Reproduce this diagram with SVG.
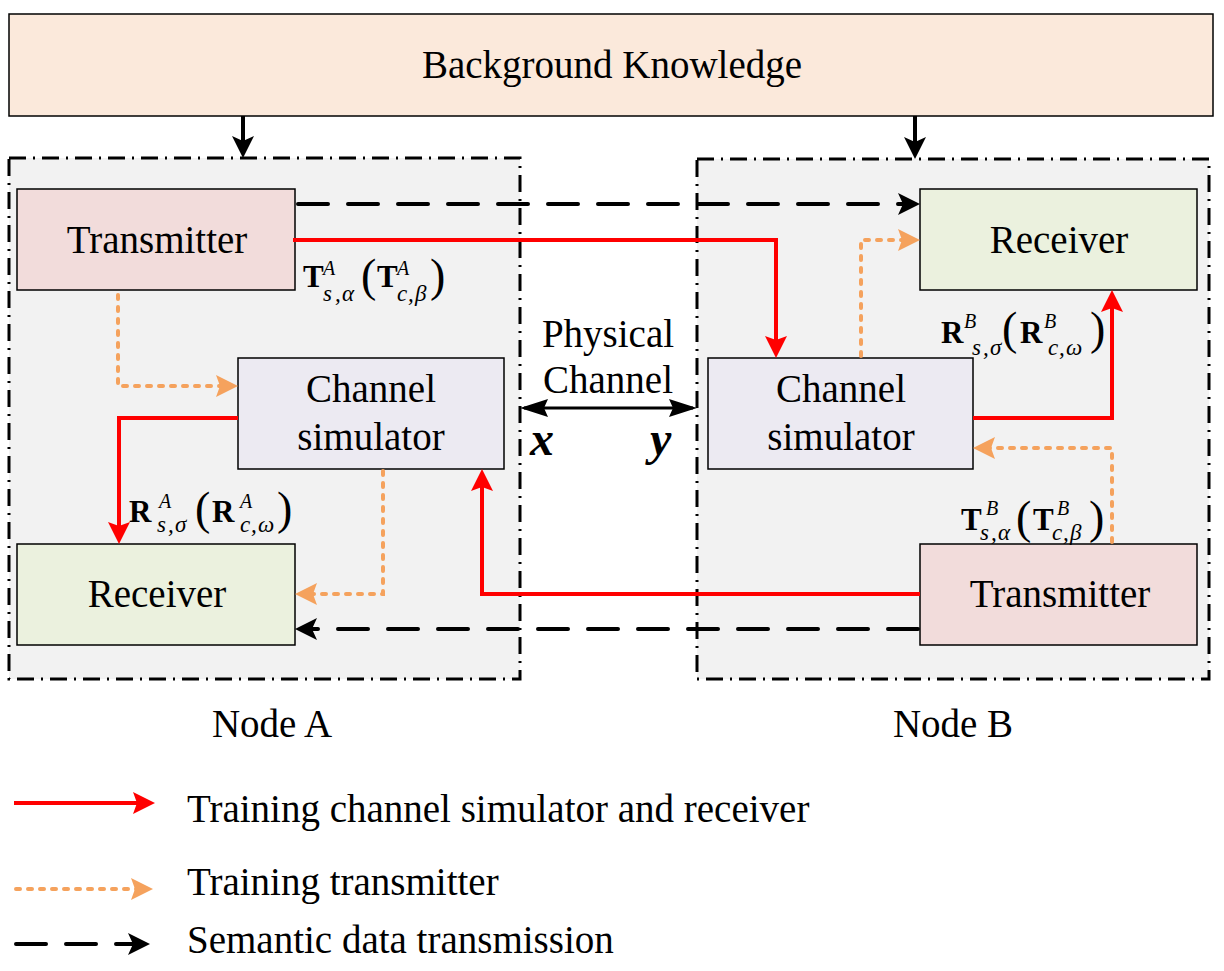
<svg xmlns="http://www.w3.org/2000/svg" width="1224" height="971" viewBox="0 0 1224 971">
<style>
text{font-family:"Liberation Serif","Times New Roman",serif;fill:#000}
.t{font-size:39px;text-anchor:middle}
.lg{font-size:39px}
.box{stroke:#000;stroke-width:1.5}
.tx{fill:#F2DCDB}
.rx{fill:#EBF1DE}
.cs{fill:#ECEAF2}
.bk{fill:#FBE9DB}
.node{fill:#F2F2F2;stroke:#000;stroke-width:3;stroke-dasharray:17 7 2 7}
.red{fill:none;stroke:#FF0000;stroke-width:4}
.or{fill:none;stroke:#F5A25D;stroke-width:4;stroke-linecap:round;stroke-dasharray:4 8}
.bd{fill:none;stroke:#000;stroke-width:4;stroke-linecap:round;stroke-dasharray:30 20}
.bs{fill:none;stroke:#000;stroke-width:4}
.pc{fill:none;stroke:#000;stroke-width:3}
.mb{font-size:31px;font-weight:bold}
.mi{font-size:20px;font-style:italic}
.ms{font-size:23px;font-style:italic}
.mp{font-size:46px}
.var{font-size:48px;font-weight:bold;font-style:italic}
</style>
<defs>
<marker id="mr" markerUnits="userSpaceOnUse" markerWidth="22" markerHeight="22" refX="16" refY="11" orient="auto"><path d="M0,0 L22,11 L0,22 L4,11 z" fill="#FF0000"/></marker>
<marker id="mo" markerUnits="userSpaceOnUse" markerWidth="22" markerHeight="22" refX="16" refY="11" orient="auto"><path d="M0,0 L22,11 L0,22 L4,11 z" fill="#F5A25D"/></marker>
<marker id="mk" markerUnits="userSpaceOnUse" markerWidth="22" markerHeight="22" refX="16" refY="11" orient="auto"><path d="M0,0 L22,11 L0,22 L5,11 z" fill="#000"/></marker>
<marker id="mp" markerUnits="userSpaceOnUse" markerWidth="28" markerHeight="18" refX="24" refY="9" orient="auto-start-reverse"><path d="M0,0 L28,9 L0,18 L4,9 z" fill="#000"/></marker>
</defs>

<g id="background-knowledge">
<rect class="box bk" x="9" y="14" width="1204" height="102"/>
<text class="t" x="612" y="78">Background Knowledge</text>
</g>

<g id="node-A">
<rect class="node" x="9" y="158" width="511" height="521"/>
<text class="t" x="272" y="737">Node A</text>
</g>
<g id="node-B">
<rect class="node" x="697" y="159" width="512" height="520"/>
<text class="t" x="953" y="737">Node B</text>
</g>

<g id="transmitter-A">
<rect class="box tx" x="17" y="189" width="278" height="101"/>
<text class="t" x="157" y="253">Transmitter</text>
</g>
<g id="channel-simulator-A">
<rect class="box cs" x="238" y="358" width="266" height="111"/>
<text class="t" x="371" y="402">Channel</text>
<text class="t" x="371" y="450">simulator</text>
</g>
<g id="receiver-A">
<rect class="box rx" x="17" y="544" width="278" height="101"/>
<text class="t" x="157" y="607">Receiver</text>
</g>
<g id="receiver-B">
<rect class="box rx" x="920" y="189" width="277" height="101"/>
<text class="t" x="1059" y="253">Receiver</text>
</g>
<g id="channel-simulator-B">
<rect class="box cs" x="708" y="358" width="265" height="111"/>
<text class="t" x="841" y="402">Channel</text>
<text class="t" x="841" y="450">simulator</text>
</g>
<g id="transmitter-B">
<rect class="box tx" x="920" y="544" width="277" height="101"/>
<text class="t" x="1060" y="607">Transmitter</text>
</g>

<g id="connectors">
<path class="bs" d="M243,116 V152" marker-end="url(#mk)"/>
<path class="bs" d="M915,116 V153" marker-end="url(#mk)"/>
<path class="red" d="M293,240 H776 V352" marker-end="url(#mr)"/>
<path class="red" d="M238,418 H119 V538" marker-end="url(#mr)"/>
<path class="red" d="M920,594 H482 V475" marker-end="url(#mr)"/>
<path class="red" d="M973,418 H1112 V296" marker-end="url(#mr)"/>
<path class="or" d="M118,295 V386 H232" marker-end="url(#mo)"/>
<path class="or" d="M383,471 V594 H301" marker-end="url(#mo)"/>
<path class="or" d="M861,356 V240 H914" marker-end="url(#mo)"/>
<path class="or" d="M1112,542 V448 H979" marker-end="url(#mo)"/>
<path class="bd" d="M298,204 H914" marker-end="url(#mk)"/>
<path class="bd" d="M918,629 H301" marker-end="url(#mk)"/>
<path class="pc" d="M524,408 H693" marker-start="url(#mp)" marker-end="url(#mp)"/>
</g>

<g id="labels">
<text class="t" x="608" y="347">Physical</text>
<text class="t" x="608" y="393">Channel</text>
<text class="var" x="530" y="455">x</text>
<text class="var" x="650" y="455">y</text>

<text><tspan class="mb" x="303" y="287">T</tspan><tspan class="mi" x="323" y="275">A</tspan><tspan class="ms" x="323 335 342" y="301">s,α</tspan><tspan class="mp" x="361" y="291">(</tspan><tspan class="mb" x="377" y="287">T</tspan><tspan class="mi" x="397" y="275">A</tspan><tspan class="ms" x="397 408 415" y="301">c,β</tspan><tspan class="mp" x="430" y="291">)</tspan></text>

<text><tspan class="mb" x="941" y="343">R</tspan><tspan class="mi" x="964" y="328">B</tspan><tspan class="ms" x="972 983 990" y="355">s,σ</tspan><tspan class="mp" x="1002" y="344">(</tspan><tspan class="mb" x="1020" y="343">R</tspan><tspan class="mi" x="1044" y="328">B</tspan><tspan class="ms" x="1048 1059 1066" y="355">c,ω</tspan><tspan class="mp" x="1090" y="344">)</tspan></text>

<text><tspan class="mb" x="129" y="522">R</tspan><tspan class="mi" x="159" y="508">A</tspan><tspan class="ms" x="157 168 175" y="532">s,σ</tspan><tspan class="mp" x="195" y="524">(</tspan><tspan class="mb" x="212" y="522">R</tspan><tspan class="mi" x="240" y="508">A</tspan><tspan class="ms" x="240 251 258" y="532">c,ω</tspan><tspan class="mp" x="277" y="524">)</tspan></text>

<text><tspan class="mb" x="961" y="530">T</tspan><tspan class="mi" x="986" y="515">B</tspan><tspan class="ms" x="980 991 998" y="540">s,α</tspan><tspan class="mp" x="1016" y="533">(</tspan><tspan class="mb" x="1033" y="530">T</tspan><tspan class="mi" x="1057" y="515">B</tspan><tspan class="ms" x="1052 1063 1070" y="540">c,β</tspan><tspan class="mp" x="1089" y="533">)</tspan></text>
</g>

<g id="legend">
<path class="red" d="M14,803 H149" marker-end="url(#mr)"/>
<path class="or" d="M16,889 H147" marker-end="url(#mo)"/>
<path class="bd" d="M16,944 H144" marker-end="url(#mk)"/>
<text class="lg" x="187" y="822">Training channel simulator and receiver</text>
<text class="lg" x="187" y="895">Training transmitter</text>
<text class="lg" x="187" y="953">Semantic data transmission</text>
</g>
</svg>
